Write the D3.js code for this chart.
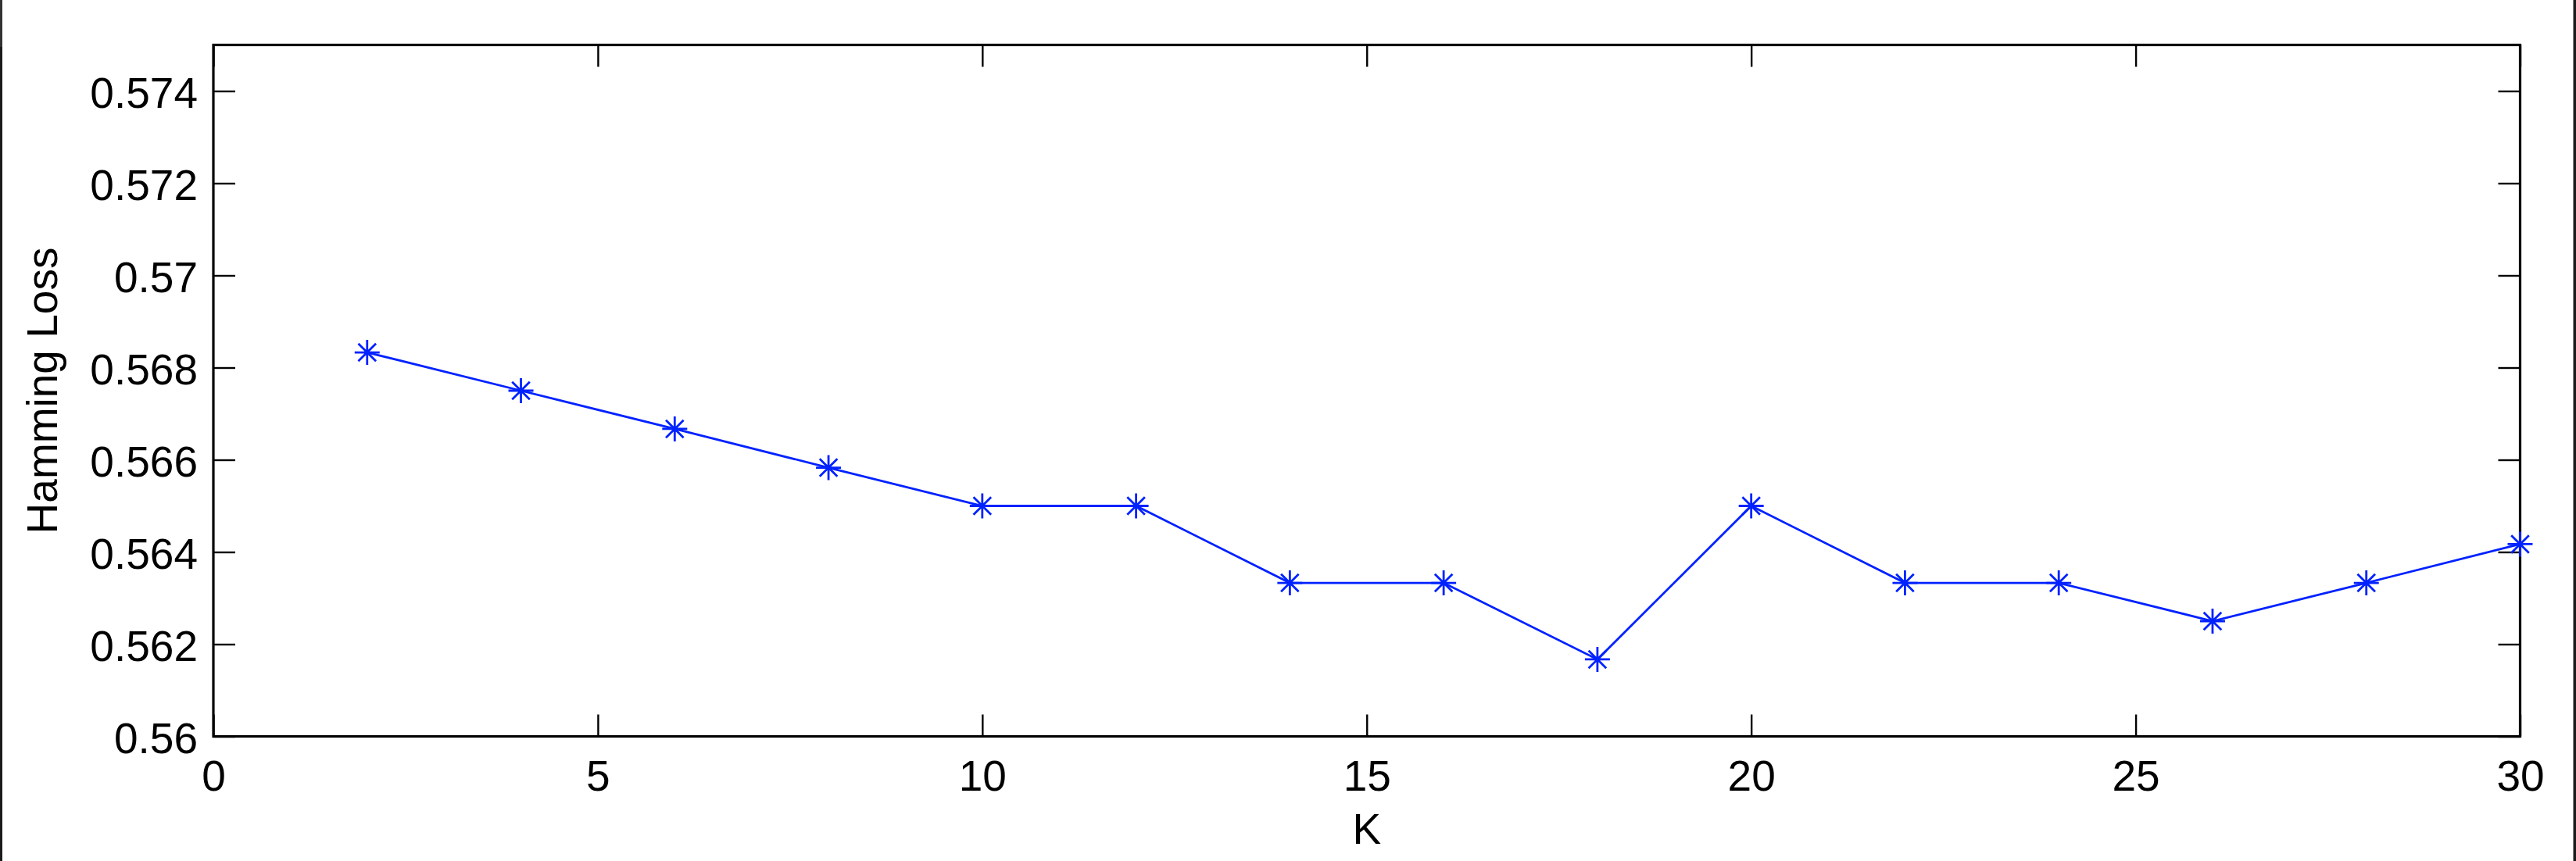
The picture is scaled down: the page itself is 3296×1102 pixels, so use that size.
<!DOCTYPE html>
<html>
<head>
<meta charset="utf-8">
<script src="https://cdn.jsdelivr.net/npm/d3@7"></script>
<style>
  html, body { margin: 0; padding: 0; background: #fff; }
  svg { display: block; }
  text { font-family: "Liberation Sans", Arial, Helvetica, sans-serif; fill: #000; }
</style>
</head>
<body>
<svg id="chart" width="3296" height="1102"></svg>
<script>
// ---- data ----
const kValues = [2, 4, 6, 8, 10, 12, 14, 16, 18, 20, 22, 24, 26, 28, 30];
const hammingLoss = [0.56833, 0.5675, 0.56667, 0.56583, 0.565, 0.565, 0.56333, 0.56333,
                     0.56167, 0.565, 0.56333, 0.56333, 0.5625, 0.56333, 0.56417];
const xTicks = [0, 5, 10, 15, 20, 25, 30];
const yTicks = [0.56, 0.562, 0.564, 0.566, 0.568, 0.57, 0.572, 0.574];
const xTickLabels = ["0", "5", "10", "15", "20", "25", "30"];
const yTickLabels = ["0.56", "0.562", "0.564", "0.566", "0.568", "0.57", "0.572", "0.574"];
const xLabel = "K";
const yLabel = "Hamming Loss";

(function () {
  // ---- layout ----
  const W = 3296, H = 1102;
  const pLeft = 273, pRight = 3224.5, pTop = 57.5, pBottom = 942.5;
  const lineColor = "#0022ff";
  const fontSize = 55;
  const tickLen = 28;

  const svg = d3.select("#chart");
  svg.append("rect").attr("width", W).attr("height", H).attr("fill", "#fff");
  // window edge strips
  svg.append("rect").attr("x", 0).attr("y", 0).attr("width", 3).attr("height", H).attr("fill", "#1c1c1c");
  svg.append("rect").attr("x", 0).attr("y", 0).attr("width", 3).attr("height", 60).attr("fill", "#333");
  svg.append("rect").attr("x", 3292.5).attr("y", 0).attr("width", 4).attr("height", H).attr("fill", "#1c1c1c");

  const x = d3.scaleLinear().domain([0, 30]).range([pLeft, pRight]);
  const y = d3.scaleLinear().domain([0.56, 0.575]).range([pBottom, pTop]);

  // ---- axes (box style, inward ticks on all sides) ----
  const fmtX = d => xTickLabels[xTicks.indexOf(d)];
  const fmtY = d => yTickLabels[yTicks.indexOf(d)];

  const axBottom = svg.append("g").attr("transform", `translate(0,${pBottom})`)
    .call(d3.axisBottom(x).tickValues(xTicks).tickSizeInner(-tickLen).tickSizeOuter(0).tickPadding(0).tickFormat(fmtX));
  const axTop = svg.append("g").attr("transform", `translate(0,${pTop})`)
    .call(d3.axisTop(x).tickValues(xTicks).tickSizeInner(-tickLen).tickSizeOuter(0).tickFormat(""));
  const axLeft = svg.append("g").attr("transform", `translate(${pLeft},0)`)
    .call(d3.axisLeft(y).tickValues(yTicks).tickSizeInner(-tickLen).tickSizeOuter(0).tickPadding(0).tickFormat(fmtY));
  const axRight = svg.append("g").attr("transform", `translate(${pRight},0)`)
    .call(d3.axisRight(y).tickValues(yTicks).tickSizeInner(-tickLen).tickSizeOuter(0).tickFormat(""));

  [axBottom, axTop, axLeft, axRight].forEach(g => {
    g.select(".domain").remove();
    g.selectAll(".tick line").attr("stroke", "#000").attr("stroke-width", 2.4);
    g.selectAll("text").attr("font-size", fontSize)
      .style("font-family", "'Liberation Sans', Arial, sans-serif").attr("fill", "#000");
  });
  axBottom.selectAll(".tick text").attr("y", 69).attr("dy", 0).attr("text-anchor", "middle");
  axLeft.selectAll(".tick text").attr("x", -20).attr("dy", "0.38em").attr("text-anchor", "end");

  // frame
  svg.append("rect").attr("x", pLeft).attr("y", pTop)
    .attr("width", pRight - pLeft).attr("height", pBottom - pTop)
    .attr("fill", "none").attr("stroke", "#000").attr("stroke-width", 3.2);

  // ---- data line ----
  const pts = kValues.map((k, i) => [k, hammingLoss[i]]);
  const line = d3.line().x(d => x(d[0])).y(d => y(d[1]));
  svg.append("path").datum(pts).attr("d", line)
    .attr("fill", "none").attr("stroke", lineColor).attr("stroke-width", 2.8).attr("stroke-linejoin", "miter");

  // asterisk markers
  const r = 16, rd = 11.3;
  const starPath = `M${-r},0L${r},0M0,${-r}L0,${r}M${-rd},${-rd}L${rd},${rd}M${-rd},${rd}L${rd},${-rd}`;
  svg.append("g").selectAll("path").data(pts).join("path")
    .attr("transform", d => `translate(${x(d[0])},${y(d[1])})`)
    .attr("d", starPath)
    .attr("fill", "none").attr("stroke", lineColor).attr("stroke-width", 2.8);

  // ---- axis titles ----
  svg.append("text").attr("x", (pLeft + pRight) / 2).attr("y", 1080)
    .attr("text-anchor", "middle").attr("font-size", fontSize).text(xLabel);
  svg.append("text").attr("transform", `translate(73,${(pTop + pBottom) / 2}) rotate(-90)`)
    .attr("text-anchor", "middle").attr("font-size", fontSize).text(yLabel);
})();
</script>
</body>
</html>
